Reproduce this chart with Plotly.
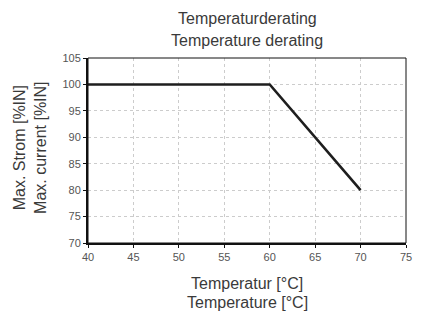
import plotly.graph_objects as go

temperature = [40, 60, 70]
max_current = [100, 100, 80]
x_ticks = [40, 45, 50, 55, 60, 65, 70, 75]
y_ticks = [70, 75, 80, 85, 90, 95, 100, 105]

L, R, T, B = 88, 412, 58, 243
W, H = 421, 311

def px(xp):
    return (xp - L) / (R - L)

def py(yp):
    return (B - yp) / (B - T)

fig = go.Figure()
fig.add_trace(go.Scatter(x=temperature, y=max_current, mode="lines",
                         line=dict(color="#1e1e1e", width=2.6), showlegend=False,
                         cliponaxis=False, hoverinfo="skip"))

font = "Liberation Sans, Arial, sans-serif"
fig.update_layout(
    width=W, height=H,
    margin=dict(l=L, r=W - R, t=T, b=H - B),
    paper_bgcolor="white", plot_bgcolor="white",
    font=dict(family=font, color="#444", size=11),
)
grid = dict(showgrid=True, gridcolor="#cccccc", griddash="3px,3px", gridwidth=1,
            showline=True, linecolor="#111", linewidth=2,
            ticks="outside", ticklen=3, tickcolor="#111",
            zeroline=False, tickfont=dict(size=11, color="#555"))
fig.update_xaxes(range=[40, 75], tickvals=x_ticks, **grid)
fig.update_yaxes(range=[70, 105], tickvals=y_ticks, **grid)
fig.add_shape(type="rect", xref="paper", yref="paper", x0=0, x1=1, y0=0, y1=1,
              line=dict(color="#111", width=1), layer="above")

tfont = dict(family=font, size=16, color="#3a3a3a")
texts = [
    ("Temperaturderating", 250, 18, 0),
    ("Temperature derating", 250, 40, 0),
    ("Temperatur [°C]", 250, 283, 0),
    ("Temperature [°C]", 250, 302, 0),
    ("Max. Strom [%IN]", 18, 148, -90),
    ("Max. current [%IN]", 39, 148, -90),
]
for txt, xp, yp, ang in texts:
    fig.add_annotation(text=txt, xref="paper", yref="paper", x=px(xp), y=py(yp),
                       xanchor="center", yanchor="middle", showarrow=False,
                       textangle=ang, font=tfont)

fig.write_html("out.html", config={"displayModeBar": False})
with open("out.html", encoding="utf-8") as f:
    html = f.read()
html = html.replace("<head>", "<head><style>html,body{margin:0;padding:0;}</style>", 1)
with open("out.html", "w", encoding="utf-8") as f:
    f.write(html)
